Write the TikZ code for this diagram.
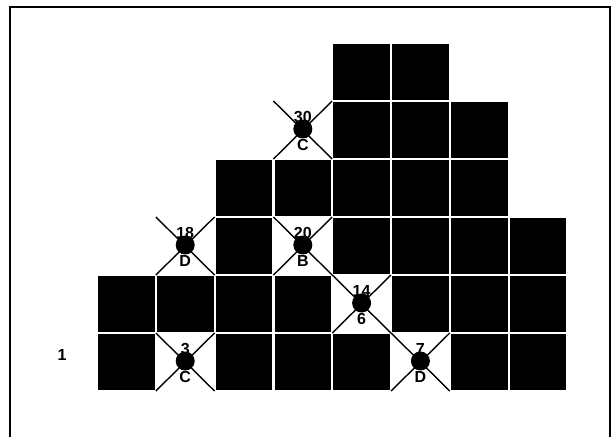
\documentclass[tikz,border=0pt]{standalone}
\usepackage{fontspec}
\setmainfont{Liberation Sans}
\begin{document}
\begin{tikzpicture}[x=1pt,y=-1pt,
  cellbox/.style={fill=black,draw=none,minimum width=56.6pt,minimum height=55.8pt,inner sep=0pt,outer sep=0pt},
  xcell/.style={draw=none,fill=none,minimum width=58.7pt,minimum height=58pt,inner sep=0pt,outer sep=0pt},
  xline/.style={line width=1.4pt,black},
  dotmark/.style={circle,fill=black,minimum size=19pt,inner sep=0pt},
  lab/.style={font=\bfseries\fontsize{16}{16}\selectfont,inner sep=0pt}]
\useasboundingbox (0,0) rectangle (615,436);
\fill[white] (0,0) rectangle (615,436);
\draw[line width=1.4pt] (10,440) -- (10,7) -- (610,7) -- (610,440);
% black cells: col,row
\foreach \c/\r in {4/0,5/0, 4/1,5/1,6/1, 2/2,3/2,4/2,5/2,6/2, 2/3,4/3,5/3,6/3,7/3,
  0/4,1/4,2/4,3/4,5/4,6/4,7/4, 0/5,2/5,3/5,4/5,6/5,7/5}
  \node[cellbox] (b\c\r) at ({97+58.8*\c+29.4},{43+58*\r+29}) {};
% crossed cells
\foreach \c/\r/\n/\l in {3/1/30/C, 1/3/18/D, 3/3/20/B, 4/4/14/6, 1/5/3/C, 5/5/7/D}{
  \node[xcell] (x\c\r) at ({97+58.8*\c+29.4},{43+58*\r+29}) {};
  \draw[xline] (x\c\r.north west) -- (x\c\r.south east);
  \draw[xline] (x\c\r.north east) -- (x\c\r.south west);
  \node[dotmark] (d\c\r) at ([yshift=1pt]x\c\r.center) {};
  \node[lab] (n\c\r) at ([yshift=13pt]x\c\r.center) {\n};
  \node[lab] (l\c\r) at ([yshift=-15pt]x\c\r.center) {\l};
}
\node[lab] (one) at (62,355) {1};
\end{tikzpicture}
\end{document}
